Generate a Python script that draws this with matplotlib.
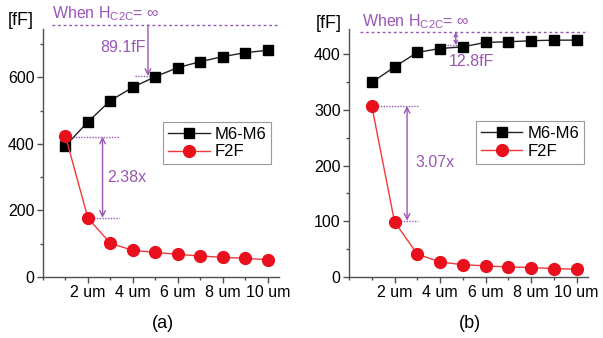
import matplotlib
matplotlib.use("Agg")
import matplotlib.pyplot as plt
from matplotlib.ticker import MultipleLocator

plt.rcParams['font.family'] = ['Liberation Sans', 'DejaVu Sans']
plt.rcParams['mathtext.fontset'] = 'custom'
plt.rcParams['mathtext.rm'] = 'Liberation Sans'

x = [1, 2, 3, 4, 5, 6, 7, 8, 9, 10]
m6_a = [394, 466, 530, 570, 602, 629, 647, 662, 674, 681]
f2f_a = [423, 177, 101, 80, 74, 68, 63, 59, 56, 52]
m6_b = [349, 377, 403, 410, 413, 421, 422, 424, 425, 425]
f2f_b = [307, 99, 41, 27, 22, 20, 18, 17, 15, 14]
xtick_vals = [2, 4, 6, 8, 10]
xtick_labels = ['2 um', '4 um', '6 um', '8 um', '10 um']

purple = '#9b55b5'
spine_c = '#505050'
fs = 11.5

fig = plt.figure(figsize=(6.03, 3.38), dpi=100)
axa = fig.add_axes([0.0713, 0.1805, 0.3914, 0.7337])
axb = fig.add_axes([0.5788, 0.1805, 0.3964, 0.7337])

def style(ax, m6, f2f, ylim, ymaj, ymin):
    ax.plot(x, m6, color='#222222', lw=1.0, marker='s', ms=7, mfc='black', mec='black', label='M6-M6', zorder=3)
    ax.plot(x, f2f, color='#f03a3a', lw=1.0, marker='o', ms=8.5, mfc='#e8101c', mec='#e8101c', label='F2F', zorder=3)
    ax.set_xlim(0, 10.5)
    ax.set_ylim(*ylim)
    ax.set_xticks(xtick_vals)
    ax.set_xticklabels(xtick_labels)
    ax.xaxis.set_minor_locator(MultipleLocator(1))
    ax.yaxis.set_major_locator(MultipleLocator(ymaj))
    ax.yaxis.set_minor_locator(MultipleLocator(ymin))
    for s in ['top', 'right']:
        ax.spines[s].set_visible(False)
    for s in ['left', 'bottom']:
        ax.spines[s].set_color(spine_c)
        ax.spines[s].set_linewidth(1.0)
    ax.tick_params(which='major', direction='out', length=4, width=1, color=spine_c, labelsize=fs, pad=2)
    ax.tick_params(which='minor', direction='out', length=2.5, width=1, color=spine_c)
    ax.patch.set_alpha(0)

style(axa, m6_a, f2f_a, (0, 745), 200, 100)
style(axb, m6_b, f2f_b, (0, 445), 100, 50)

for ax, anchor in [(axa, (0.508, 0.625)), (axb, (0.530, 0.629))]:
    leg = ax.legend(loc='upper left', bbox_to_anchor=anchor, borderaxespad=0, fontsize=12,
                    fancybox=False, framealpha=1, edgecolor='#9a9a9a', handlelength=2.5,
                    handletextpad=0.3, borderpad=0.3, labelspacing=0.15)
    leg.get_frame().set_linewidth(0.8)

title_txt = 'When H$_{\\mathregular{C2C}}$= \u221e'

# panel (a) annotations
axa.plot([0.4, 10.4], [757, 757], ls=(0, (2, 2)), color=purple, lw=1.0, clip_on=False)
axa.text(0.42, 763, title_txt, color=purple, fontsize=fs, ha='left', va='bottom', clip_on=False)
axa.annotate('', xy=(4.67, 604), xytext=(4.67, 757),
             arrowprops=dict(arrowstyle='->', color=purple, lw=1.0, shrinkA=0, shrinkB=0), annotation_clip=False)
axa.plot([4.09, 4.76], [604, 604], ls=(0, (1, 1)), color=purple, lw=1.0)
axa.text(4.55, 688, '89.1fF', color=purple, fontsize=fs, ha='right', va='center')
axa.plot([1.07, 3.38], [421.5, 421.5], ls=(0, (1, 1)), color=purple, lw=1.0)
axa.plot([2.0, 3.38], [178, 178], ls=(0, (1, 1)), color=purple, lw=1.0)
axa.annotate('', xy=(2.65, 178), xytext=(2.65, 421.5),
             arrowprops=dict(arrowstyle='<->', color=purple, lw=1.0, shrinkA=0, shrinkB=0))
axa.text(2.84, 300, '2.38x', color=purple, fontsize=fs, ha='left', va='center')

# panel (b) annotations
axb.plot([0.48, 10.5], [439.6, 439.6], ls=(0, (2, 2)), color=purple, lw=1.0, clip_on=False)
axb.text(0.55, 442, title_txt, color=purple, fontsize=fs, ha='left', va='bottom', clip_on=False)
axb.annotate('', xy=(4.69, 416), xytext=(4.69, 439.6),
             arrowprops=dict(arrowstyle='<->', color=purple, lw=1.0, shrinkA=0, shrinkB=0, mutation_scale=6))
axb.plot([4.3, 5.1], [416, 416], ls=(0, (1, 1)), color=purple, lw=1.0)
axb.text(5.39, 386, '12.8fF', color=purple, fontsize=fs, ha='center', va='center')
axb.plot([1.0, 3.03], [306.8, 306.8], ls=(0, (1, 1)), color=purple, lw=1.0)
axb.plot([2.0, 3.03], [101, 101], ls=(0, (1, 1)), color=purple, lw=1.0)
axb.annotate('', xy=(2.55, 101), xytext=(2.55, 306.8),
             arrowprops=dict(arrowstyle='<->', color=purple, lw=1.0, shrinkA=0, shrinkB=0))
axb.text(2.9, 206, '3.07x', color=purple, fontsize=fs, ha='left', va='center')

fig.text(0.035, 0.94, '[fF]', fontsize=13, ha='center', va='center')
fig.text(0.545, 0.93, '[fF]', fontsize=13, ha='center', va='center')
fig.text(0.27, 0.044, '(a)', fontsize=13, ha='center', va='center')
fig.text(0.779, 0.044, '(b)', fontsize=13, ha='center', va='center')

fig.savefig('out.png', dpi=100)
